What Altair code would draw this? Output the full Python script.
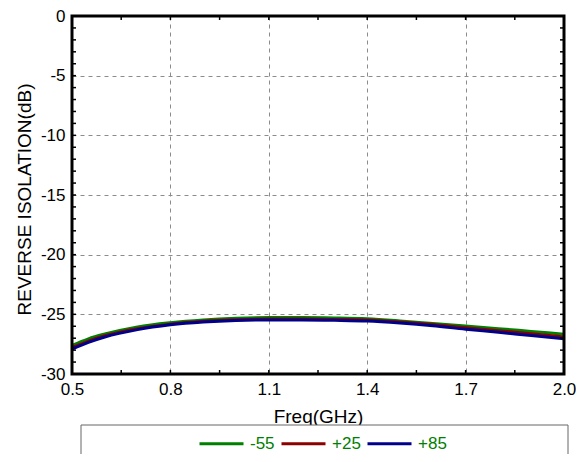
import altair as alt
import pandas as pd

freq = [0.5, 0.55, 0.6, 0.7, 0.8, 0.9, 1.0, 1.1, 1.2, 1.3, 1.4, 1.5, 1.6, 1.7, 1.8, 1.9, 2.0]
iso_m55 = [-27.6, -27.05, -26.65, -26.05, -25.7, -25.47, -25.33, -25.27, -25.27, -25.3, -25.37,
           -25.55, -25.77, -25.98, -26.2, -26.43, -26.66]
iso_p25 = [-27.8, -27.25, -26.8, -26.2, -25.82, -25.58, -25.45, -25.4, -25.4, -25.43, -25.48,
           -25.64, -25.86, -26.12, -26.37, -26.63, -26.9]
iso_p85 = [-27.92, -27.35, -26.9, -26.28, -25.88, -25.64, -25.51, -25.47, -25.47, -25.5, -25.56,
           -25.73, -25.96, -26.25, -26.5, -26.78, -27.05]
series = ["-55", "+25", "+85"]
colors = ["#008000", "#8b0000", "#00008b"]
x_ticks = [0.5, 0.8, 1.1, 1.4, 1.7, 2.0]
y_ticks = [-30, -25, -20, -15, -10, -5, 0]
x_minor = [0.65, 0.8, 0.95, 1.1, 1.25, 1.4, 1.55, 1.7, 1.85]
y_minor = [v for v in range(-29, 0)]

rows = []
for name, vals in zip(series, [iso_m55, iso_p25, iso_p85]):
    for f, v in zip(freq, vals):
        rows.append({"freq": f, "iso": v, "temp": name})
df = pd.DataFrame(rows)

W, H = 492, 358
FONT = "Liberation Sans"

xscale = alt.Scale(domain=[0.5, 2.0], nice=False, zero=False)
yscale = alt.Scale(domain=[-30, 0], nice=False, zero=False)

lines = alt.Chart(df).mark_line(strokeWidth=3, interpolate="monotone").encode(
    x=alt.X("freq:Q", scale=xscale,
            axis=alt.Axis(values=x_ticks, format=".1f", title="Freq(GHz)", ticks=False,
                          domain=False, grid=True, gridDash=[4, 4], gridColor="#8c8c8c",
                          labelFlush=False, labelOverlap=False,
                          labelFontSize=17, labelPadding=7, labelColor="black", labelFont=FONT,
                          titleFontSize=19, titleFont=FONT, titleFontWeight="normal",
                          titleColor="black", titleX=W / 2, titleY=42,
                          titleBaseline="middle", titleAlign="center")),
    y=alt.Y("iso:Q", scale=yscale,
            axis=alt.Axis(values=y_ticks, title="REVERSE ISOLATION(dB)", ticks=False,
                          domain=False, grid=True, gridDash=[4, 4], gridColor="#8c8c8c",
                          labelExpr="toString(datum.value)", labelFlush=False,
                          labelFontSize=17, labelPadding=7, labelColor="black", labelFont=FONT,
                          titleFontSize=19, titleFont=FONT, titleFontWeight="normal",
                          titleColor="black", titleX=-48, titleY=H / 2 + 4,
                          titleAngle=-90, titleBaseline="middle", titleAlign="center")),
    color=alt.Color("temp:N", scale=alt.Scale(domain=series, range=colors),
                    sort=series,
                    legend=alt.Legend(title=None, orient="none", direction="horizontal",
                                      legendX=126, legendY=404, symbolType="stroke",
                                      symbolSize=1936, symbolStrokeWidth=3,
                                      labelColor="#008000", labelFontSize=17, labelFont=FONT,
                                      labelOffset=5, columnPadding=0, padding=0)),
    order=alt.Order("temp:N"),
)

ydf = pd.DataFrame({"y": y_minor})
xdf = pd.DataFrame({"x": x_minor})

ytick_l = alt.Chart(ydf).mark_rule(color="black", strokeWidth=1.5).encode(
    y=alt.Y("y:Q", scale=yscale), x=alt.value(0), x2=alt.value(4))
ytick_r = alt.Chart(ydf).mark_rule(color="black", strokeWidth=1.5).encode(
    y=alt.Y("y:Q", scale=yscale), x=alt.value(W), x2=alt.value(W - 4))
xtick_b = alt.Chart(xdf).mark_rule(color="black", strokeWidth=1.5).encode(
    x=alt.X("x:Q", scale=xscale), y=alt.value(H), y2=alt.value(H - 4))
xtick_t = alt.Chart(xdf).mark_rule(color="black", strokeWidth=1.5).encode(
    x=alt.X("x:Q", scale=xscale), y=alt.value(0), y2=alt.value(4))

frame = alt.Chart(pd.DataFrame({"a": [0]})).mark_rect(
    fill=None, fillOpacity=0, stroke="black", strokeWidth=3).encode(
    x=alt.value(0), x2=alt.value(W), y=alt.value(0), y2=alt.value(H))

box = alt.Chart(pd.DataFrame({"a": [0]})).mark_rect(
    fill="white", stroke="#666666", strokeWidth=1).encode(
    x=alt.value(9), x2=alt.value(496), y=alt.value(409), y2=alt.value(470))

chart = alt.layer(box, lines, ytick_l, ytick_r, xtick_b, xtick_t, frame).properties(
    width=W, height=H,
    autosize=alt.AutoSizeParams(type="none"),
    padding={"left": 64, "top": 8, "right": 12, "bottom": 80},
).configure_view(stroke=None).configure(background="white")

chart.save("out.html", embed_options={"renderer": "svg", "actions": False})
